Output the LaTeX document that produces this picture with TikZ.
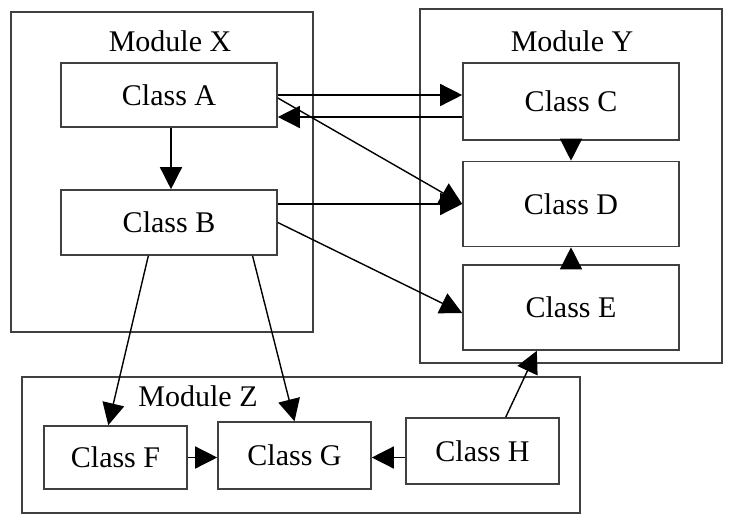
\documentclass[tikz,border=0pt]{standalone}
\usepackage{fontspec}
\setmainfont{Liberation Serif}
\usetikzlibrary{arrows.meta,calc}

\begin{document}
\begin{tikzpicture}[x=1pt,y=-1pt,
        modbox/.style={draw=black!75, line width=1.6pt, rectangle, inner sep=0pt},
        classbox/.style={draw=black!75, line width=1.6pt, rectangle, inner sep=0pt, font=\fontsize{30}{36}\selectfont},
        modlabel/.style={inner sep=0pt, font=\fontsize{30}{36}\selectfont},
        dep/.style={-{Triangle[length=22pt,width=22pt]}, line width=1.4pt}]
    \useasboundingbox (0,0) rectangle (731,525);

    % modules
    \node[modbox, minimum width=302pt, minimum height=320pt] (modx) at (162,172) {};
    \node[modbox, minimum width=302pt, minimum height=354pt] (mody) at (571,186) {};
    \node[modbox, minimum width=558pt, minimum height=136pt] (modz) at (301,445) {};
    \node[modlabel] (labx) at (170,41) {Module X};
    \node[modlabel] (laby) at (572,41) {Module Y};
    \node[modlabel] (labz) at (198,396) {Module Z};

    % classes
    \node[classbox, minimum width=216pt, minimum height=64pt] (classa) at (169,95) {Class A};
    \node[classbox, minimum width=216pt, minimum height=65pt] (classb) at (169,222.5) {Class B};
    \node[classbox, minimum width=216pt, minimum height=77pt] (classc) at (571,101.5) {Class C};
    \node[classbox, minimum width=216pt, minimum height=85pt] (classd) at (571,204) {Class D};
    \node[classbox, minimum width=216pt, minimum height=85pt] (classe) at (571,307.5) {Class E};
    \node[classbox, minimum width=143pt, minimum height=63pt] (classf) at (115.5,457.5) {Class F};
    \node[classbox, minimum width=153pt, minimum height=67pt] (classg) at (294.5,455.5) {Class G};
    \node[classbox, minimum width=153pt, minimum height=66pt] (classh) at (482.5,451) {Class H};

    % dependencies
    \draw[dep] ($(classa.south)+(2,0)$) -- ($(classb.north)+(2,0)$);
    \draw[dep] (classa.east) -- (classa.east -| classc.west);
    \draw[dep] (classc.west |- 0,117) -- (classa.east |- 0,117);
    \draw[dep] (classa.east |- 0,98) -- (classd.west);
    \draw[dep] (classd.west -| classb.east) -- (classd.west);
    \draw[dep] (classb.east) -- (classe.west |- 0,313);
    \draw[dep] (classc.south) -- (classd.north);
    \draw[dep] (classe.north) -- (classd.south);
    \draw[dep] ($(classb.south west)!0.405!(classb.south east)$) -- ($(classf.north west)!0.45!(classf.north east)$);
    \draw[dep] ($(classb.south west)!0.884!(classb.south east)$) -- (classg.north);
    \draw[dep] (classf.east) -- (classf.east -| classg.west);
    \draw[dep] (classh.west |- classf.east) -- (classg.east |- classf.east);
    \draw[dep] ($(classh.north west)!0.65!(classh.north east)$) -- ($(classe.south west)!0.343!(classe.south east)$);
\end{tikzpicture}
\end{document}
